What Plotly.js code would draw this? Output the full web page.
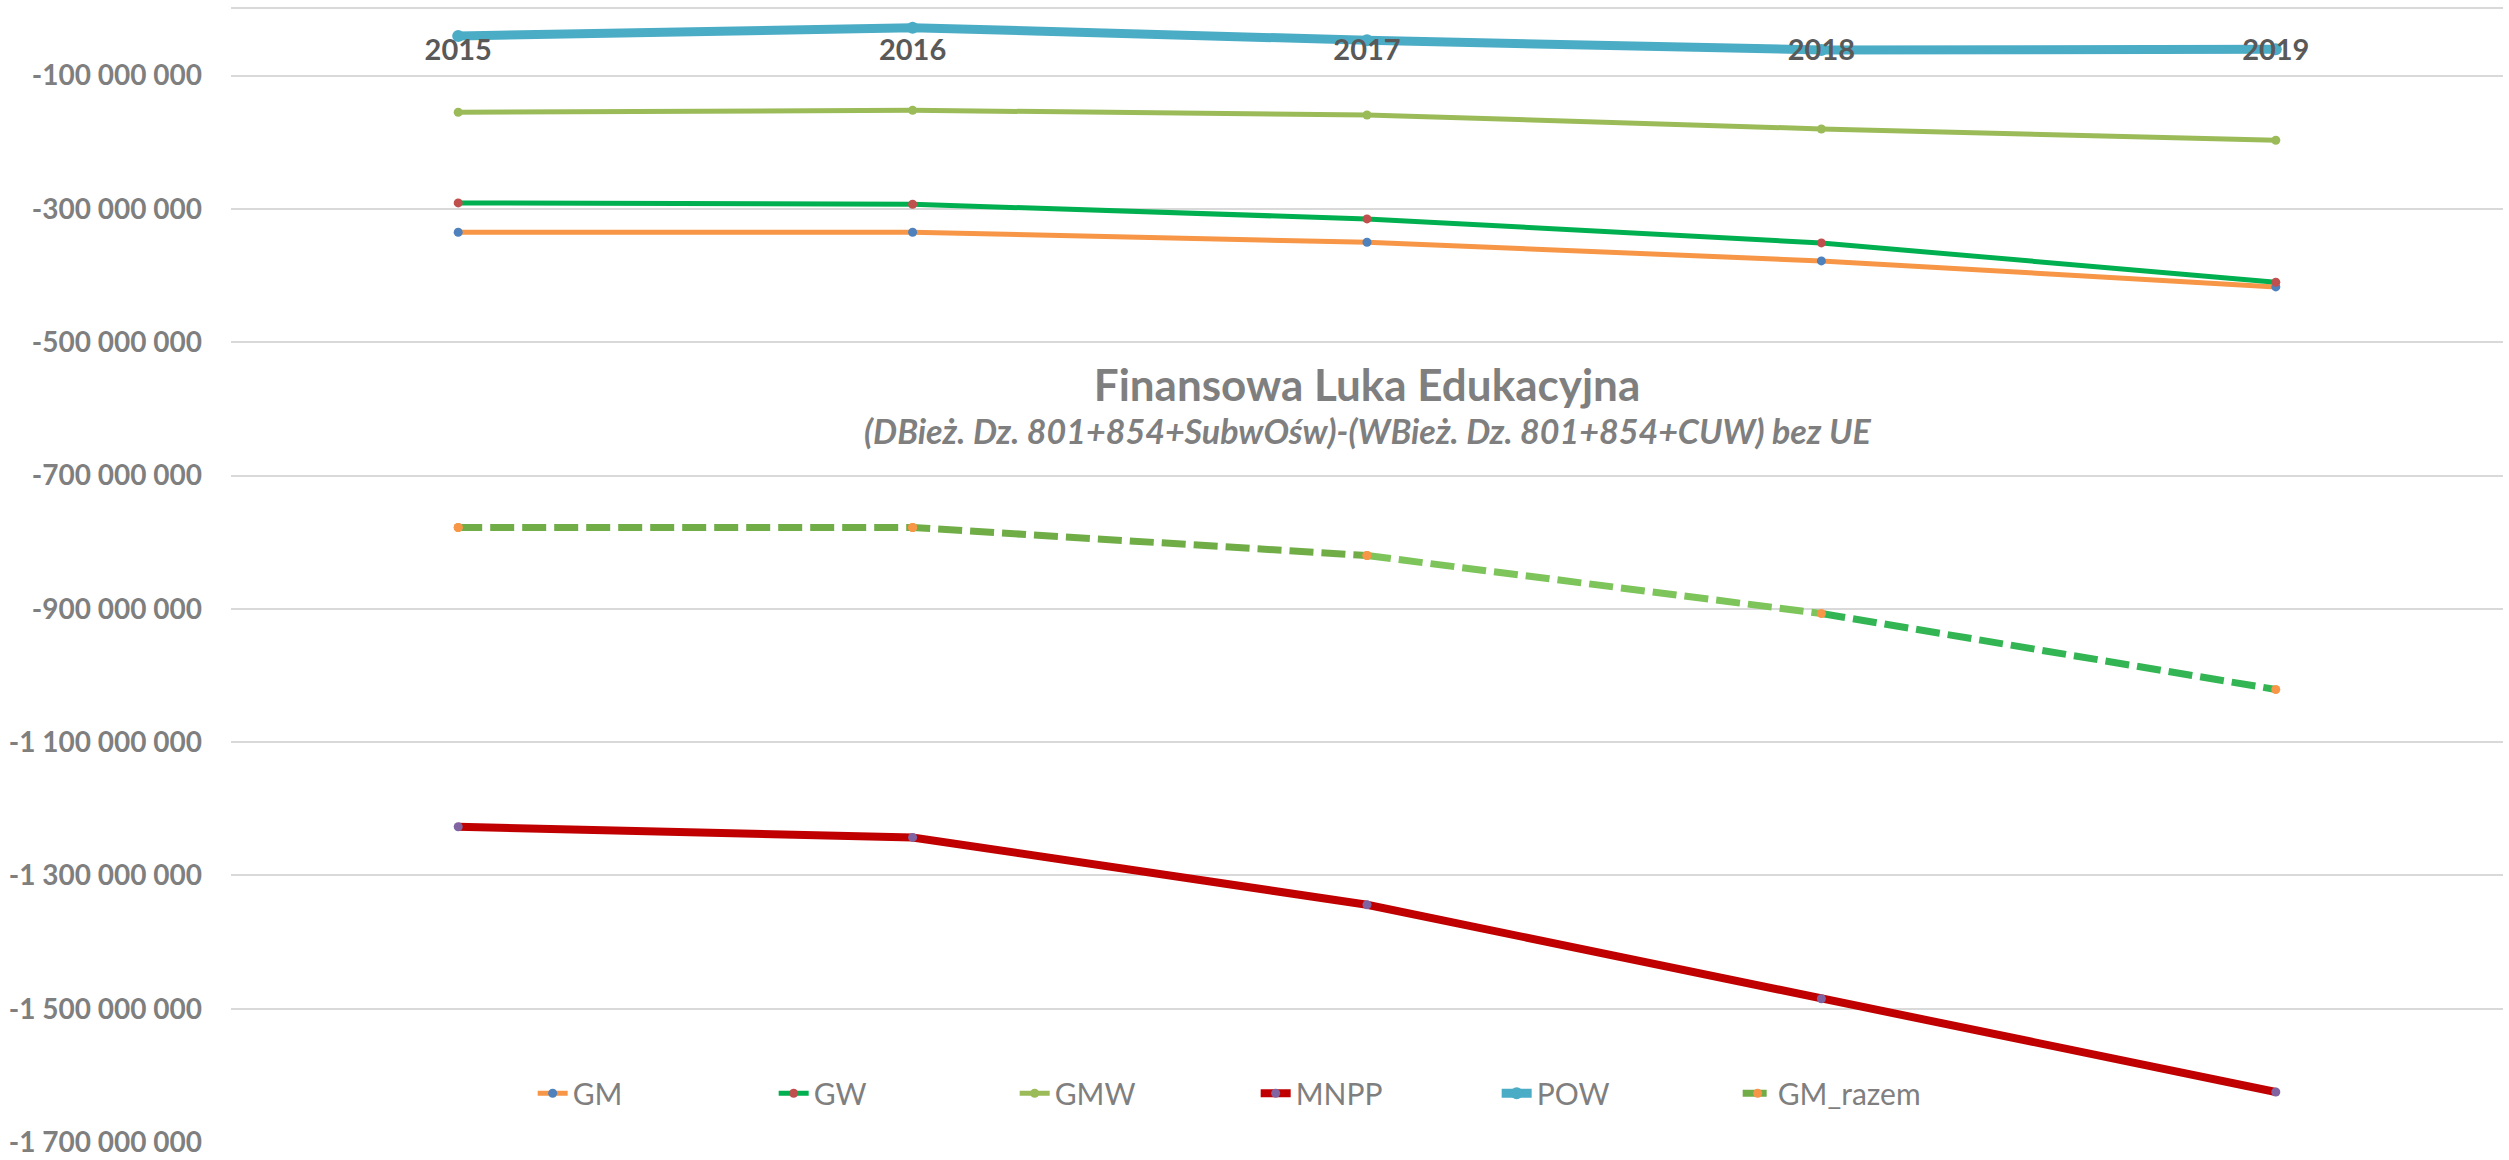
<!DOCTYPE html>
<html>
<head>
<meta charset="utf-8">
<script src="https://cdn.plot.ly/plotly-3.0.1.min.js"></script>
<style>html,body{margin:0;padding:0;background:#fff;}#chart{width:2509px;height:1160px;}</style>
</head>
<body>
<div id="chart"></div>
<script>
// ---- data ----
const years = ['2015', '2016', '2017', '2018', '2019'];
const GM      = [-335e6, -335e6, -350e6, -378e6, -417e6];
const GW      = [-291e6, -293e6, -315e6, -351e6, -410e6];
const GMW     = [-155e6, -152e6, -159e6, -180e6, -197e6];
const MNPP    = [-1227e6, -1243e6, -1344e6, -1485e6, -1625e6];
const POW     = [-40.5e6, -28e6, -47e6, -61.5e6, -60.5e6];
const GM_razem = [-778e6, -778e6, -820e6, -907e6, -1021e6];

const yTickVals = [-100e6, -300e6, -500e6, -700e6, -900e6, -1100e6, -1300e6, -1500e6, -1700e6];
const yTickLabels = ['-100 000 000', '-300 000 000', '-500 000 000', '-700 000 000', '-900 000 000',
                     '-1 100 000 000', '-1 300 000 000', '-1 500 000 000', '-1 700 000 000'];

const titleText = 'Finansowa Luka Edukacyjna';
const subtitleText = '(DBież. Dz. 801+854+SubwOśw)-(WBież. Dz. 801+854+CUW) bez UE';

// ---- traces ----
function tr(name, x, y, lineColor, width, markerColor, msize, dash, mode, showlegend) {
  return {
    type: 'scatter', mode: mode || 'lines+markers', name: name, x: x, y: y,
    line: {color: lineColor, width: width, dash: dash || 'solid'},
    marker: {color: markerColor, size: msize, symbol: 'circle', line: {width: 0}},
    legendgroup: name, showlegend: showlegend === undefined ? true : showlegend,
    hoverinfo: 'x+y+name'
  };
}
const RZ_DASH = '24px,8px';
const data = [
  tr('GM', years, GM, '#F79646', 5, '#4F81BD', 9),
  tr('GW', years, GW, '#00B050', 5, '#C0504D', 9),
  tr('GMW', years, GMW, '#9BBB59', 5, '#9BBB59', 9),
  tr('MNPP', years, MNPP, '#C00000', 8, '#8064A2', 9),
  tr('POW', years, POW, '#4BACC6', 9, '#4BACC6', 12),
  // GM_razem: the line colour shifts from olive green to bright green, drawn in pieces of the same series
  tr('GM_razem', years.slice(0, 3), GM_razem.slice(0, 3), '#70AD47', 7, '#F79646', 9, RZ_DASH),
  tr('GM_razem', years.slice(2, 4), GM_razem.slice(2, 4), '#7DC45A', 7, '#F79646', 9, RZ_DASH, 'lines', false),
  tr('GM_razem', years.slice(3, 5), GM_razem.slice(3, 5), '#33B553', 7, '#F79646', 9, RZ_DASH, 'lines', false),
  tr('GM_razem', years, GM_razem, '#70AD47', 7, '#F79646', 9, RZ_DASH, 'markers', false)
];

const FONT = 'Lato, "Open Sans", sans-serif';

const layout = {
  width: 2509, height: 1160,
  margin: {l: 231, r: 6, t: 9, b: 18, pad: 0},
  paper_bgcolor: '#FFFFFF', plot_bgcolor: '#FFFFFF',
  showlegend: true,
  font: {family: FONT, color: '#7F7F7F'},
  title: {
    text: titleText,
    font: {family: FONT, size: 44, weight: 'bold', color: '#7F7F7F'},
    xref: 'paper', x: 0.5, xanchor: 'center',
    yref: 'container', y: 1 - 386 / 1160, yanchor: 'middle'
  },
  annotations: [{
    text: subtitleText, showarrow: false,
    xref: 'paper', x: 0.5, xanchor: 'center',
    yref: 'paper', y: (1142 - 430) / 1133, yanchor: 'middle',
    font: {family: FONT, size: 34, style: 'italic', weight: 'bold', color: '#7F7F7F'}
  }],
  xaxis: {
    type: 'category', range: [-0.5, 4.5], side: 'top',
    tickvals: years, ticktext: years,
    ticklabelposition: 'inside', ticklabelstandoff: 34,
    ticks: '', showgrid: false, zeroline: false,
    showline: true, linecolor: '#D9D9D9', linewidth: 2,
    tickfont: {family: FONT, size: 29, weight: 'bold', color: '#595959'},
    fixedrange: true
  },
  yaxis: {
    range: [-1700e6, 0], tickvals: yTickVals, ticktext: yTickLabels,
    ticks: '', showgrid: true, gridcolor: '#D9D9D9', gridwidth: 2,
    zeroline: false, showline: false, ticklabelstandoff: 28,
    tickfont: {family: FONT, size: 28, weight: 'bold', color: '#7F7F7F'},
    fixedrange: true
  },
  legend: {
    orientation: 'h', x: 0.451, xanchor: 'center', y: 0.043, yanchor: 'middle',
    font: {family: FONT, size: 30, color: '#7F7F7F'},
    bgcolor: 'rgba(0,0,0,0)', itemwidth: 30, entrywidth: 196, entrywidthmode: 'pixels',
    traceorder: 'normal'
  }
};

Plotly.newPlot('chart', data, layout, {displayModeBar: false, staticPlot: true});
</script>
</body>
</html>
